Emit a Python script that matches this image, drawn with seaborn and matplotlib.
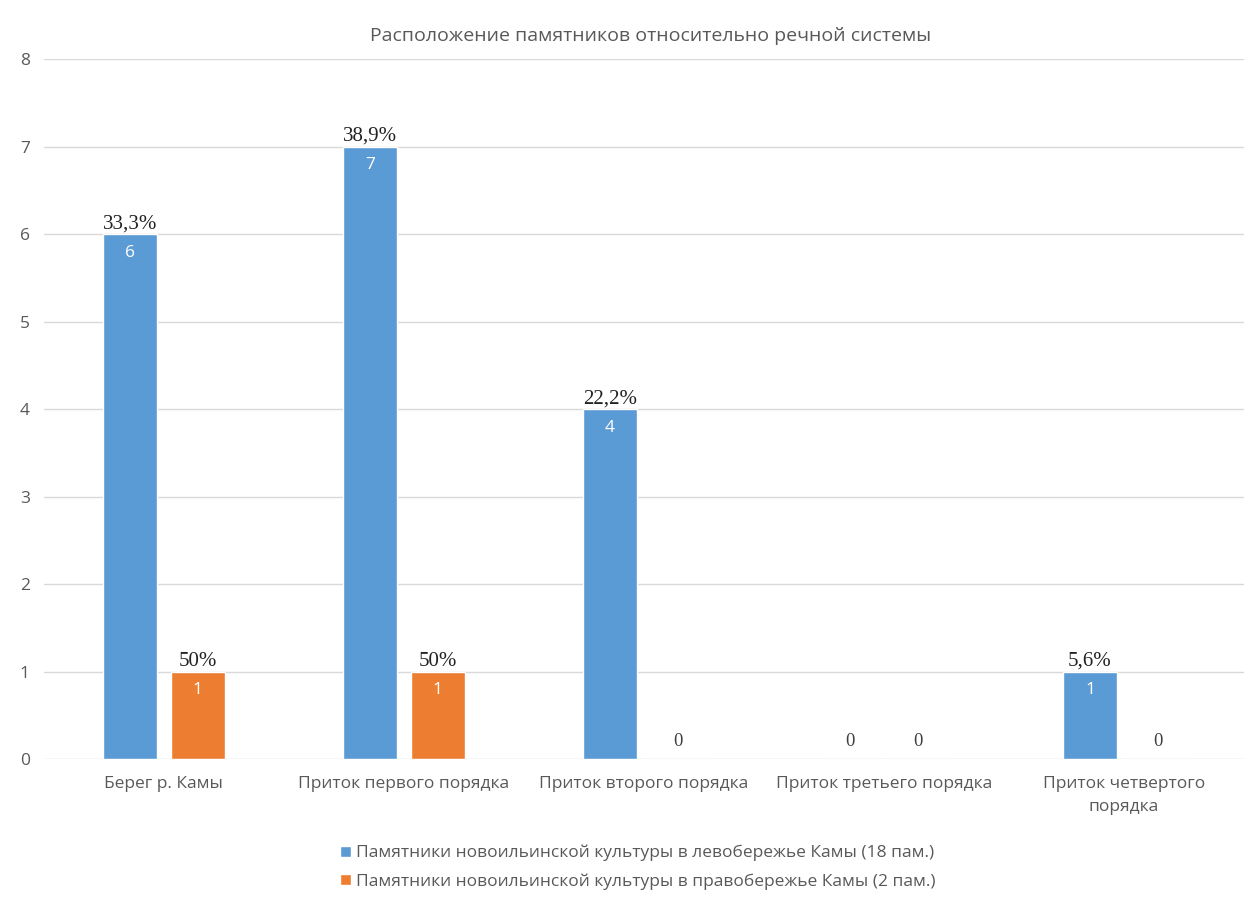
import pandas as pd
import matplotlib.pyplot as plt
import seaborn as sns

# Data
categories = ["Берег р. Камы", "Приток первого порядка", "Приток второго порядка",
              "Приток третьего порядка", "Приток четвертого\nпорядка"]
series_names = ["Памятники новоильинской культуры в левобережье Камы (18 пам.)",
                "Памятники новоильинской культуры в правобережье Камы (2 пам.)"]
left_bank = [6, 7, 4, 0, 1]
right_bank = [1, 1, 0, 0, 0]
left_pct = ["33,3%", "38,9%", "22,2%", "", "5,6%"]
right_pct = ["50%", "50%", "", "", ""]
colors = ["#5B9BD5", "#ED7D31"]

df = pd.DataFrame({
    "category": categories * 2,
    "value": left_bank + right_bank,
    "series": [series_names[0]] * 5 + [series_names[1]] * 5,
})

sns.set_style("white")
plt.rcParams["font.family"] = ["Open Sans", "DejaVu Sans"]

fig = plt.figure(figsize=(12.49, 8.97), dpi=100)
ax = fig.add_axes([0.035, 0.1538, 0.961, 0.7804])

sns.barplot(data=df, x="category", y="value", hue="series", palette=colors,
            width=0.566, gap=0.2, ax=ax, saturation=1)

ax.set_ylim(0, 8)
ax.set_yticks(range(0, 9))
ax.grid(axis="y", color="#D9D9D9", linewidth=1)
ax.set_axisbelow(True)
for s in ax.spines.values():
    s.set_visible(False)
ax.set_xlabel("")
ax.set_ylabel("")
ax.tick_params(axis="both", length=0, labelcolor="#595959", labelsize=12.5)
ax.tick_params(axis="x", pad=12)
ax.tick_params(axis="y", pad=10)
for t in ax.get_xticklabels():
    t.set_linespacing(1.6)

# Labels
pcts = [left_pct, right_pct]
for cont, vals, pl in zip(ax.containers, [left_bank, right_bank], pcts):
    for bar, v, p in zip(cont, vals, pl):
        cx = bar.get_x() + bar.get_width() / 2
        if v == 0:
            ax.text(cx, 0.1, "0", ha="center", va="bottom", fontsize=13.5,
                    family="Liberation Serif", color="#404040")
            continue
        ax.text(cx, v + 0.01, p, ha="center", va="bottom", fontsize=15,
                family="Liberation Serif", color="#222222")
        ax.text(cx, v - 0.12, str(v), ha="center", va="top", fontsize=12.5,
                color="white")

handles, labels = ax.get_legend_handles_labels()
ax.legend(handles, labels, loc="upper center", bbox_to_anchor=(0.495, -0.1),
          ncol=1, frameon=False, fontsize=12.5, handlelength=0.6, handleheight=0.6,
          handletextpad=0.3, labelspacing=0.7, labelcolor="#595959")

fig.suptitle("Расположение памятников относительно речной системы",
             x=0.521, y=0.97, fontsize=14, color="#595959")

fig.savefig("out.png", dpi=100)
